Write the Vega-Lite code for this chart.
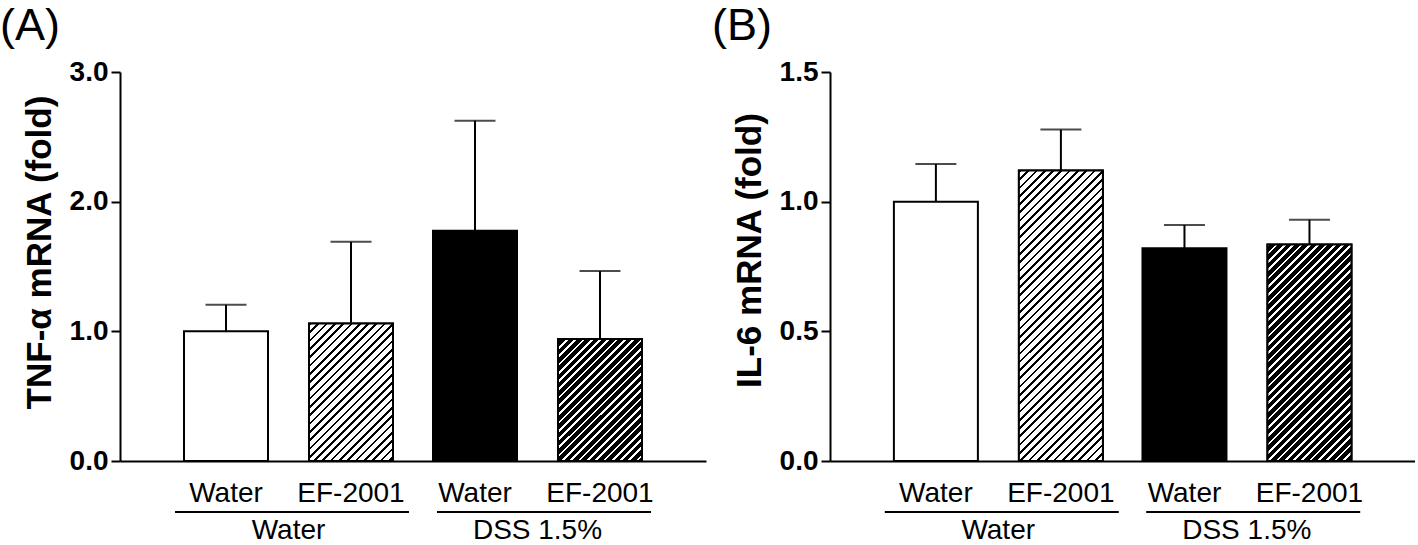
{
"$schema":"https://vega.github.io/schema/vega-lite/v6.json",
"padding":{"left":0,"top":4,"right":0,"bottom":0},
"spacing":6,
"config":{"view":{"stroke":null},"font":"Liberation Sans","axis":{"domainColor":"black","tickColor":"black","labelColor":"black","titleColor":"black","grid":false,"domainWidth":2,"tickWidth":2}},
"hconcat":[
{
"width":586,"height":389,
"title":{"text":"(A)","anchor":"start","frame":"group","dx":-120,"offset":-36,"baseline":"bottom","fontSize":45,"fontWeight":"normal","color":"black","font":"Liberation Sans"},
"data":{"values":[
{"group":"Water","treatment":"Water","value":1.0,"upper":1.205},
{"group":"Water","treatment":"EF-2001","value":1.06,"upper":1.69},
{"group":"DSS 1.5%","treatment":"Water","value":1.775,"upper":2.625},
{"group":"DSS 1.5%","treatment":"EF-2001","value":0.94,"upper":1.465}
]},
"layer":[
{"mark":{"type":"bar","stroke":"black","strokeWidth":2},
"encoding":{
"x":{"field":"group","type":"nominal","sort":["Water","DSS 1.5%"],"scale":{"domain":["Water","DSS 1.5%"],"paddingInner":0.16064,"paddingOuter":0.25703},"axis":{"title":null,"domain":true,"ticks":false,"tickSize":0,"labelPadding":77,"labelBaseline":"alphabetic","labelFontSize":28,"labelAngle":0}},
"xOffset":{"field":"treatment","type":"nominal","sort":["Water","EF-2001"],"scale":{"domain":["Water","EF-2001"],"paddingInner":0.328,"paddingOuter":0}},
"y":{"field":"value","type":"quantitative","scale":{"domain":[0,3],"nice":false},"axis":{"title":"TNF-α mRNA (fold)","titleFontSize":35,"titleFontWeight":"bold","titleX":-70,"titleY":180,"titleBaseline":"alphabetic","titleAlign":"center","values":[0,1,2,3],"format":".1f","labelFontSize":28,"labelFontWeight":"bold","tickSize":9,"labelPadding":3}},
"fill":{"condition":{"test":"datum.group==='DSS 1.5%'","value":"black"},"value":"white"}
}},
{"transform":[{"filter":"datum.group==='Water' && datum.treatment==='EF-2001'"}],
"mark":{"type":"bar","stroke":"black","strokeWidth":2,"fill":{"gradient":"linear","x1":0,"y1":0,"x2":1.3441,"y2":2.1986,"stops":[
{"offset":0,"color":"#000"},{"offset":0.0065,"color":"#000"},{"offset":0.0065,"color":"#fff"},{"offset":0.02,"color":"#fff"},
{"offset":0.02,"color":"#000"},{"offset":0.0265,"color":"#000"},{"offset":0.0265,"color":"#fff"},{"offset":0.04,"color":"#fff"},
{"offset":0.04,"color":"#000"},{"offset":0.0465,"color":"#000"},{"offset":0.0465,"color":"#fff"},{"offset":0.06,"color":"#fff"},
{"offset":0.06,"color":"#000"},{"offset":0.0665,"color":"#000"},{"offset":0.0665,"color":"#fff"},{"offset":0.08,"color":"#fff"},
{"offset":0.08,"color":"#000"},{"offset":0.0865,"color":"#000"},{"offset":0.0865,"color":"#fff"},{"offset":0.1,"color":"#fff"},
{"offset":0.1,"color":"#000"},{"offset":0.1065,"color":"#000"},{"offset":0.1065,"color":"#fff"},{"offset":0.12,"color":"#fff"},
{"offset":0.12,"color":"#000"},{"offset":0.1265,"color":"#000"},{"offset":0.1265,"color":"#fff"},{"offset":0.14,"color":"#fff"},
{"offset":0.14,"color":"#000"},{"offset":0.1465,"color":"#000"},{"offset":0.1465,"color":"#fff"},{"offset":0.16,"color":"#fff"},
{"offset":0.16,"color":"#000"},{"offset":0.1665,"color":"#000"},{"offset":0.1665,"color":"#fff"},{"offset":0.18,"color":"#fff"},
{"offset":0.18,"color":"#000"},{"offset":0.1865,"color":"#000"},{"offset":0.1865,"color":"#fff"},{"offset":0.2,"color":"#fff"},
{"offset":0.2,"color":"#000"},{"offset":0.2065,"color":"#000"},{"offset":0.2065,"color":"#fff"},{"offset":0.22,"color":"#fff"},
{"offset":0.22,"color":"#000"},{"offset":0.2265,"color":"#000"},{"offset":0.2265,"color":"#fff"},{"offset":0.24,"color":"#fff"},
{"offset":0.24,"color":"#000"},{"offset":0.2465,"color":"#000"},{"offset":0.2465,"color":"#fff"},{"offset":0.26,"color":"#fff"},
{"offset":0.26,"color":"#000"},{"offset":0.2665,"color":"#000"},{"offset":0.2665,"color":"#fff"},{"offset":0.28,"color":"#fff"},
{"offset":0.28,"color":"#000"},{"offset":0.2865,"color":"#000"},{"offset":0.2865,"color":"#fff"},{"offset":0.3,"color":"#fff"},
{"offset":0.3,"color":"#000"},{"offset":0.3065,"color":"#000"},{"offset":0.3065,"color":"#fff"},{"offset":0.32,"color":"#fff"},
{"offset":0.32,"color":"#000"},{"offset":0.3265,"color":"#000"},{"offset":0.3265,"color":"#fff"},{"offset":0.34,"color":"#fff"},
{"offset":0.34,"color":"#000"},{"offset":0.3465,"color":"#000"},{"offset":0.3465,"color":"#fff"},{"offset":0.36,"color":"#fff"},
{"offset":0.36,"color":"#000"},{"offset":0.3665,"color":"#000"},{"offset":0.3665,"color":"#fff"},{"offset":0.38,"color":"#fff"},
{"offset":0.38,"color":"#000"},{"offset":0.3865,"color":"#000"},{"offset":0.3865,"color":"#fff"},{"offset":0.4,"color":"#fff"},
{"offset":0.4,"color":"#000"},{"offset":0.4065,"color":"#000"},{"offset":0.4065,"color":"#fff"},{"offset":0.42,"color":"#fff"},
{"offset":0.42,"color":"#000"},{"offset":0.4265,"color":"#000"},{"offset":0.4265,"color":"#fff"},{"offset":0.44,"color":"#fff"},
{"offset":0.44,"color":"#000"},{"offset":0.4465,"color":"#000"},{"offset":0.4465,"color":"#fff"},{"offset":0.46,"color":"#fff"},
{"offset":0.46,"color":"#000"},{"offset":0.4665,"color":"#000"},{"offset":0.4665,"color":"#fff"},{"offset":0.48,"color":"#fff"},
{"offset":0.48,"color":"#000"},{"offset":0.4865,"color":"#000"},{"offset":0.4865,"color":"#fff"},{"offset":0.5,"color":"#fff"},
{"offset":0.5,"color":"#000"},{"offset":0.5065,"color":"#000"},{"offset":0.5065,"color":"#fff"},{"offset":0.52,"color":"#fff"},
{"offset":0.52,"color":"#000"},{"offset":0.5265,"color":"#000"},{"offset":0.5265,"color":"#fff"},{"offset":0.54,"color":"#fff"},
{"offset":0.54,"color":"#000"},{"offset":0.5465,"color":"#000"},{"offset":0.5465,"color":"#fff"},{"offset":0.56,"color":"#fff"}
]}},
"encoding":{"x":{"field":"group","type":"nominal"},"xOffset":{"field":"treatment","type":"nominal"},"y":{"field":"value","type":"quantitative"}}},
{"transform":[{"filter":"datum.group==='DSS 1.5%' && datum.treatment==='EF-2001'"}],
"mark":{"type":"bar","stroke":"black","strokeWidth":2,"fill":{"gradient":"linear","x1":0,"y1":0,"x2":1.5906,"y2":2.3083,"stops":[
{"offset":0,"color":"#fff"},{"offset":0.0065,"color":"#fff"},{"offset":0.0065,"color":"#000"},{"offset":0.02,"color":"#000"},
{"offset":0.02,"color":"#fff"},{"offset":0.0265,"color":"#fff"},{"offset":0.0265,"color":"#000"},{"offset":0.04,"color":"#000"},
{"offset":0.04,"color":"#fff"},{"offset":0.0465,"color":"#fff"},{"offset":0.0465,"color":"#000"},{"offset":0.06,"color":"#000"},
{"offset":0.06,"color":"#fff"},{"offset":0.0665,"color":"#fff"},{"offset":0.0665,"color":"#000"},{"offset":0.08,"color":"#000"},
{"offset":0.08,"color":"#fff"},{"offset":0.0865,"color":"#fff"},{"offset":0.0865,"color":"#000"},{"offset":0.1,"color":"#000"},
{"offset":0.1,"color":"#fff"},{"offset":0.1065,"color":"#fff"},{"offset":0.1065,"color":"#000"},{"offset":0.12,"color":"#000"},
{"offset":0.12,"color":"#fff"},{"offset":0.1265,"color":"#fff"},{"offset":0.1265,"color":"#000"},{"offset":0.14,"color":"#000"},
{"offset":0.14,"color":"#fff"},{"offset":0.1465,"color":"#fff"},{"offset":0.1465,"color":"#000"},{"offset":0.16,"color":"#000"},
{"offset":0.16,"color":"#fff"},{"offset":0.1665,"color":"#fff"},{"offset":0.1665,"color":"#000"},{"offset":0.18,"color":"#000"},
{"offset":0.18,"color":"#fff"},{"offset":0.1865,"color":"#fff"},{"offset":0.1865,"color":"#000"},{"offset":0.2,"color":"#000"},
{"offset":0.2,"color":"#fff"},{"offset":0.2065,"color":"#fff"},{"offset":0.2065,"color":"#000"},{"offset":0.22,"color":"#000"},
{"offset":0.22,"color":"#fff"},{"offset":0.2265,"color":"#fff"},{"offset":0.2265,"color":"#000"},{"offset":0.24,"color":"#000"},
{"offset":0.24,"color":"#fff"},{"offset":0.2465,"color":"#fff"},{"offset":0.2465,"color":"#000"},{"offset":0.26,"color":"#000"},
{"offset":0.26,"color":"#fff"},{"offset":0.2665,"color":"#fff"},{"offset":0.2665,"color":"#000"},{"offset":0.28,"color":"#000"},
{"offset":0.28,"color":"#fff"},{"offset":0.2865,"color":"#fff"},{"offset":0.2865,"color":"#000"},{"offset":0.3,"color":"#000"},
{"offset":0.3,"color":"#fff"},{"offset":0.3065,"color":"#fff"},{"offset":0.3065,"color":"#000"},{"offset":0.32,"color":"#000"},
{"offset":0.32,"color":"#fff"},{"offset":0.3265,"color":"#fff"},{"offset":0.3265,"color":"#000"},{"offset":0.34,"color":"#000"},
{"offset":0.34,"color":"#fff"},{"offset":0.3465,"color":"#fff"},{"offset":0.3465,"color":"#000"},{"offset":0.36,"color":"#000"},
{"offset":0.36,"color":"#fff"},{"offset":0.3665,"color":"#fff"},{"offset":0.3665,"color":"#000"},{"offset":0.38,"color":"#000"},
{"offset":0.38,"color":"#fff"},{"offset":0.3865,"color":"#fff"},{"offset":0.3865,"color":"#000"},{"offset":0.4,"color":"#000"},
{"offset":0.4,"color":"#fff"},{"offset":0.4065,"color":"#fff"},{"offset":0.4065,"color":"#000"},{"offset":0.42,"color":"#000"},
{"offset":0.42,"color":"#fff"},{"offset":0.4265,"color":"#fff"},{"offset":0.4265,"color":"#000"},{"offset":0.44,"color":"#000"},
{"offset":0.44,"color":"#fff"},{"offset":0.4465,"color":"#fff"},{"offset":0.4465,"color":"#000"},{"offset":0.46,"color":"#000"},
{"offset":0.46,"color":"#fff"},{"offset":0.4665,"color":"#fff"},{"offset":0.4665,"color":"#000"},{"offset":0.48,"color":"#000"},
{"offset":0.48,"color":"#fff"},{"offset":0.4865,"color":"#fff"},{"offset":0.4865,"color":"#000"},{"offset":0.5,"color":"#000"},
{"offset":0.5,"color":"#fff"},{"offset":0.5065,"color":"#fff"},{"offset":0.5065,"color":"#000"},{"offset":0.52,"color":"#000"}
]}},
"encoding":{"x":{"field":"group","type":"nominal"},"xOffset":{"field":"treatment","type":"nominal"},"y":{"field":"value","type":"quantitative"}}},
{"mark":{"type":"rule","strokeWidth":2,"color":"black"},
"encoding":{"x":{"field":"group","type":"nominal"},"xOffset":{"field":"treatment","type":"nominal"},"y":{"field":"value","type":"quantitative"},"y2":{"field":"upper"}}},
{"mark":{"type":"tick","size":41,"thickness":2,"color":"black"},
"encoding":{"x":{"field":"group","type":"nominal"},"xOffset":{"field":"treatment","type":"nominal"},"y":{"field":"upper","type":"quantitative"}}},
{"mark":{"type":"text","fontSize":28,"baseline":"alphabetic","dy":41,"color":"black"},
"encoding":{"x":{"field":"group","type":"nominal"},"xOffset":{"field":"treatment","type":"nominal"},"y":{"datum":0,"type":"quantitative"},"text":{"field":"treatment"}}},
{"transform":[{"filter":"datum.group==='Water'"}],
"mark":{"type":"rule","strokeWidth":2,"color":"black","yOffset":51,"xOffset":-9,"x2Offset":16},
"encoding":{"x":{"field":"group","type":"nominal","bandPosition":0},"x2":{"field":"group","bandPosition":1},"y":{"datum":0,"type":"quantitative"}}},
{"transform":[{"filter":"datum.group==='DSS 1.5%'"}],
"mark":{"type":"rule","strokeWidth":2,"color":"black","yOffset":51,"xOffset":4,"x2Offset":9},
"encoding":{"x":{"field":"group","type":"nominal","bandPosition":0},"x2":{"field":"group","bandPosition":1},"y":{"datum":0,"type":"quantitative"}}}
]
},
{
"width":585,"height":389,
"title":{"text":"(B)","anchor":"start","frame":"group","dx":-118,"offset":-36,"baseline":"bottom","fontSize":45,"fontWeight":"normal","color":"black","font":"Liberation Sans"},
"data":{"values":[
{"group":"Water","treatment":"Water","value":1.0,"upper":1.145},
{"group":"Water","treatment":"EF-2001","value":1.12,"upper":1.278},
{"group":"DSS 1.5%","treatment":"Water","value":0.82,"upper":0.91},
{"group":"DSS 1.5%","treatment":"EF-2001","value":0.835,"upper":0.93}
]},
"layer":[
{"mark":{"type":"bar","stroke":"black","strokeWidth":2},
"encoding":{
"x":{"field":"group","type":"nominal","sort":["Water","DSS 1.5%"],"scale":{"domain":["Water","DSS 1.5%"],"paddingInner":0.16064,"paddingOuter":0.25703},"axis":{"title":null,"domain":true,"ticks":false,"tickSize":0,"labelPadding":77,"labelBaseline":"alphabetic","labelFontSize":28,"labelAngle":0}},
"xOffset":{"field":"treatment","type":"nominal","sort":["Water","EF-2001"],"scale":{"domain":["Water","EF-2001"],"paddingInner":0.328,"paddingOuter":0}},
"y":{"field":"value","type":"quantitative","scale":{"domain":[0,1.5],"nice":false},"axis":{"title":"IL-6 mRNA (fold)","titleFontSize":35,"titleFontWeight":"bold","titleX":-70,"titleY":178,"titleBaseline":"alphabetic","titleAlign":"center","values":[0,0.5,1,1.5],"format":".1f","labelFontSize":28,"labelFontWeight":"bold","tickSize":9,"labelPadding":3}},
"fill":{"condition":{"test":"datum.group==='DSS 1.5%'","value":"black"},"value":"white"}
}},
{"transform":[{"filter":"datum.group==='Water' && datum.treatment==='EF-2001'"}],
"mark":{"type":"bar","stroke":"black","strokeWidth":2,"fill":{"gradient":"linear","x1":0,"y1":0,"x2":0.3812,"y2":1.3183,"stops":[
{"offset":0,"color":"#000"},{"offset":0.0065,"color":"#000"},{"offset":0.0065,"color":"#fff"},{"offset":0.02,"color":"#fff"},
{"offset":0.02,"color":"#000"},{"offset":0.0265,"color":"#000"},{"offset":0.0265,"color":"#fff"},{"offset":0.04,"color":"#fff"},
{"offset":0.04,"color":"#000"},{"offset":0.0465,"color":"#000"},{"offset":0.0465,"color":"#fff"},{"offset":0.06,"color":"#fff"},
{"offset":0.06,"color":"#000"},{"offset":0.0665,"color":"#000"},{"offset":0.0665,"color":"#fff"},{"offset":0.08,"color":"#fff"},
{"offset":0.08,"color":"#000"},{"offset":0.0865,"color":"#000"},{"offset":0.0865,"color":"#fff"},{"offset":0.1,"color":"#fff"},
{"offset":0.1,"color":"#000"},{"offset":0.1065,"color":"#000"},{"offset":0.1065,"color":"#fff"},{"offset":0.12,"color":"#fff"},
{"offset":0.12,"color":"#000"},{"offset":0.1265,"color":"#000"},{"offset":0.1265,"color":"#fff"},{"offset":0.14,"color":"#fff"},
{"offset":0.14,"color":"#000"},{"offset":0.1465,"color":"#000"},{"offset":0.1465,"color":"#fff"},{"offset":0.16,"color":"#fff"},
{"offset":0.16,"color":"#000"},{"offset":0.1665,"color":"#000"},{"offset":0.1665,"color":"#fff"},{"offset":0.18,"color":"#fff"},
{"offset":0.18,"color":"#000"},{"offset":0.1865,"color":"#000"},{"offset":0.1865,"color":"#fff"},{"offset":0.2,"color":"#fff"},
{"offset":0.2,"color":"#000"},{"offset":0.2065,"color":"#000"},{"offset":0.2065,"color":"#fff"},{"offset":0.22,"color":"#fff"},
{"offset":0.22,"color":"#000"},{"offset":0.2265,"color":"#000"},{"offset":0.2265,"color":"#fff"},{"offset":0.24,"color":"#fff"},
{"offset":0.24,"color":"#000"},{"offset":0.2465,"color":"#000"},{"offset":0.2465,"color":"#fff"},{"offset":0.26,"color":"#fff"},
{"offset":0.26,"color":"#000"},{"offset":0.2665,"color":"#000"},{"offset":0.2665,"color":"#fff"},{"offset":0.28,"color":"#fff"},
{"offset":0.28,"color":"#000"},{"offset":0.2865,"color":"#000"},{"offset":0.2865,"color":"#fff"},{"offset":0.3,"color":"#fff"},
{"offset":0.3,"color":"#000"},{"offset":0.3065,"color":"#000"},{"offset":0.3065,"color":"#fff"},{"offset":0.32,"color":"#fff"},
{"offset":0.32,"color":"#000"},{"offset":0.3265,"color":"#000"},{"offset":0.3265,"color":"#fff"},{"offset":0.34,"color":"#fff"},
{"offset":0.34,"color":"#000"},{"offset":0.3465,"color":"#000"},{"offset":0.3465,"color":"#fff"},{"offset":0.36,"color":"#fff"},
{"offset":0.36,"color":"#000"},{"offset":0.3665,"color":"#000"},{"offset":0.3665,"color":"#fff"},{"offset":0.38,"color":"#fff"},
{"offset":0.38,"color":"#000"},{"offset":0.3865,"color":"#000"},{"offset":0.3865,"color":"#fff"},{"offset":0.4,"color":"#fff"},
{"offset":0.4,"color":"#000"},{"offset":0.4065,"color":"#000"},{"offset":0.4065,"color":"#fff"},{"offset":0.42,"color":"#fff"},
{"offset":0.42,"color":"#000"},{"offset":0.4265,"color":"#000"},{"offset":0.4265,"color":"#fff"},{"offset":0.44,"color":"#fff"},
{"offset":0.44,"color":"#000"},{"offset":0.4465,"color":"#000"},{"offset":0.4465,"color":"#fff"},{"offset":0.46,"color":"#fff"},
{"offset":0.46,"color":"#000"},{"offset":0.4665,"color":"#000"},{"offset":0.4665,"color":"#fff"},{"offset":0.48,"color":"#fff"},
{"offset":0.48,"color":"#000"},{"offset":0.4865,"color":"#000"},{"offset":0.4865,"color":"#fff"},{"offset":0.5,"color":"#fff"},
{"offset":0.5,"color":"#000"},{"offset":0.5065,"color":"#000"},{"offset":0.5065,"color":"#fff"},{"offset":0.52,"color":"#fff"},
{"offset":0.52,"color":"#000"},{"offset":0.5265,"color":"#000"},{"offset":0.5265,"color":"#fff"},{"offset":0.54,"color":"#fff"},
{"offset":0.54,"color":"#000"},{"offset":0.5465,"color":"#000"},{"offset":0.5465,"color":"#fff"},{"offset":0.56,"color":"#fff"},
{"offset":0.56,"color":"#000"},{"offset":0.5665,"color":"#000"},{"offset":0.5665,"color":"#fff"},{"offset":0.58,"color":"#fff"},
{"offset":0.58,"color":"#000"},{"offset":0.5865,"color":"#000"},{"offset":0.5865,"color":"#fff"},{"offset":0.6,"color":"#fff"},
{"offset":0.6,"color":"#000"},{"offset":0.6065,"color":"#000"},{"offset":0.6065,"color":"#fff"},{"offset":0.62,"color":"#fff"},
{"offset":0.62,"color":"#000"},{"offset":0.6265,"color":"#000"},{"offset":0.6265,"color":"#fff"},{"offset":0.64,"color":"#fff"},
{"offset":0.64,"color":"#000"},{"offset":0.6465,"color":"#000"},{"offset":0.6465,"color":"#fff"},{"offset":0.66,"color":"#fff"},
{"offset":0.66,"color":"#000"},{"offset":0.6665,"color":"#000"},{"offset":0.6665,"color":"#fff"},{"offset":0.68,"color":"#fff"},
{"offset":0.68,"color":"#000"},{"offset":0.6865,"color":"#000"},{"offset":0.6865,"color":"#fff"},{"offset":0.7,"color":"#fff"},
{"offset":0.7,"color":"#000"},{"offset":0.7065,"color":"#000"},{"offset":0.7065,"color":"#fff"},{"offset":0.72,"color":"#fff"},
{"offset":0.72,"color":"#000"},{"offset":0.7265,"color":"#000"},{"offset":0.7265,"color":"#fff"},{"offset":0.74,"color":"#fff"},
{"offset":0.74,"color":"#000"},{"offset":0.7465,"color":"#000"},{"offset":0.7465,"color":"#fff"},{"offset":0.76,"color":"#fff"},
{"offset":0.76,"color":"#000"},{"offset":0.7665,"color":"#000"},{"offset":0.7665,"color":"#fff"},{"offset":0.78,"color":"#fff"},
{"offset":0.78,"color":"#000"},{"offset":0.7865,"color":"#000"},{"offset":0.7865,"color":"#fff"},{"offset":0.8,"color":"#fff"},
{"offset":0.8,"color":"#000"},{"offset":0.8065,"color":"#000"},{"offset":0.8065,"color":"#fff"},{"offset":0.82,"color":"#fff"},
{"offset":0.82,"color":"#000"},{"offset":0.8265,"color":"#000"},{"offset":0.8265,"color":"#fff"},{"offset":0.84,"color":"#fff"},
{"offset":0.84,"color":"#000"},{"offset":0.8465,"color":"#000"},{"offset":0.8465,"color":"#fff"},{"offset":0.86,"color":"#fff"},
{"offset":0.86,"color":"#000"},{"offset":0.8665,"color":"#000"},{"offset":0.8665,"color":"#fff"},{"offset":0.88,"color":"#fff"},
{"offset":0.88,"color":"#000"},{"offset":0.8865,"color":"#000"},{"offset":0.8865,"color":"#fff"},{"offset":0.9,"color":"#fff"},
{"offset":0.9,"color":"#000"},{"offset":0.9065,"color":"#000"},{"offset":0.9065,"color":"#fff"},{"offset":0.92,"color":"#fff"}
]}},
"encoding":{"x":{"field":"group","type":"nominal"},"xOffset":{"field":"treatment","type":"nominal"},"y":{"field":"value","type":"quantitative"}}},
{"transform":[{"filter":"datum.group==='DSS 1.5%' && datum.treatment==='EF-2001'"}],
"mark":{"type":"bar","stroke":"black","strokeWidth":2,"fill":{"gradient":"linear","x1":0,"y1":0,"x2":0.6464,"y2":1.6661,"stops":[
{"offset":0,"color":"#fff"},{"offset":0.0065,"color":"#fff"},{"offset":0.0065,"color":"#000"},{"offset":0.02,"color":"#000"},
{"offset":0.02,"color":"#fff"},{"offset":0.0265,"color":"#fff"},{"offset":0.0265,"color":"#000"},{"offset":0.04,"color":"#000"},
{"offset":0.04,"color":"#fff"},{"offset":0.0465,"color":"#fff"},{"offset":0.0465,"color":"#000"},{"offset":0.06,"color":"#000"},
{"offset":0.06,"color":"#fff"},{"offset":0.0665,"color":"#fff"},{"offset":0.0665,"color":"#000"},{"offset":0.08,"color":"#000"},
{"offset":0.08,"color":"#fff"},{"offset":0.0865,"color":"#fff"},{"offset":0.0865,"color":"#000"},{"offset":0.1,"color":"#000"},
{"offset":0.1,"color":"#fff"},{"offset":0.1065,"color":"#fff"},{"offset":0.1065,"color":"#000"},{"offset":0.12,"color":"#000"},
{"offset":0.12,"color":"#fff"},{"offset":0.1265,"color":"#fff"},{"offset":0.1265,"color":"#000"},{"offset":0.14,"color":"#000"},
{"offset":0.14,"color":"#fff"},{"offset":0.1465,"color":"#fff"},{"offset":0.1465,"color":"#000"},{"offset":0.16,"color":"#000"},
{"offset":0.16,"color":"#fff"},{"offset":0.1665,"color":"#fff"},{"offset":0.1665,"color":"#000"},{"offset":0.18,"color":"#000"},
{"offset":0.18,"color":"#fff"},{"offset":0.1865,"color":"#fff"},{"offset":0.1865,"color":"#000"},{"offset":0.2,"color":"#000"},
{"offset":0.2,"color":"#fff"},{"offset":0.2065,"color":"#fff"},{"offset":0.2065,"color":"#000"},{"offset":0.22,"color":"#000"},
{"offset":0.22,"color":"#fff"},{"offset":0.2265,"color":"#fff"},{"offset":0.2265,"color":"#000"},{"offset":0.24,"color":"#000"},
{"offset":0.24,"color":"#fff"},{"offset":0.2465,"color":"#fff"},{"offset":0.2465,"color":"#000"},{"offset":0.26,"color":"#000"},
{"offset":0.26,"color":"#fff"},{"offset":0.2665,"color":"#fff"},{"offset":0.2665,"color":"#000"},{"offset":0.28,"color":"#000"},
{"offset":0.28,"color":"#fff"},{"offset":0.2865,"color":"#fff"},{"offset":0.2865,"color":"#000"},{"offset":0.3,"color":"#000"},
{"offset":0.3,"color":"#fff"},{"offset":0.3065,"color":"#fff"},{"offset":0.3065,"color":"#000"},{"offset":0.32,"color":"#000"},
{"offset":0.32,"color":"#fff"},{"offset":0.3265,"color":"#fff"},{"offset":0.3265,"color":"#000"},{"offset":0.34,"color":"#000"},
{"offset":0.34,"color":"#fff"},{"offset":0.3465,"color":"#fff"},{"offset":0.3465,"color":"#000"},{"offset":0.36,"color":"#000"},
{"offset":0.36,"color":"#fff"},{"offset":0.3665,"color":"#fff"},{"offset":0.3665,"color":"#000"},{"offset":0.38,"color":"#000"},
{"offset":0.38,"color":"#fff"},{"offset":0.3865,"color":"#fff"},{"offset":0.3865,"color":"#000"},{"offset":0.4,"color":"#000"},
{"offset":0.4,"color":"#fff"},{"offset":0.4065,"color":"#fff"},{"offset":0.4065,"color":"#000"},{"offset":0.42,"color":"#000"},
{"offset":0.42,"color":"#fff"},{"offset":0.4265,"color":"#fff"},{"offset":0.4265,"color":"#000"},{"offset":0.44,"color":"#000"},
{"offset":0.44,"color":"#fff"},{"offset":0.4465,"color":"#fff"},{"offset":0.4465,"color":"#000"},{"offset":0.46,"color":"#000"},
{"offset":0.46,"color":"#fff"},{"offset":0.4665,"color":"#fff"},{"offset":0.4665,"color":"#000"},{"offset":0.48,"color":"#000"},
{"offset":0.48,"color":"#fff"},{"offset":0.4865,"color":"#fff"},{"offset":0.4865,"color":"#000"},{"offset":0.5,"color":"#000"},
{"offset":0.5,"color":"#fff"},{"offset":0.5065,"color":"#fff"},{"offset":0.5065,"color":"#000"},{"offset":0.52,"color":"#000"},
{"offset":0.52,"color":"#fff"},{"offset":0.5265,"color":"#fff"},{"offset":0.5265,"color":"#000"},{"offset":0.54,"color":"#000"},
{"offset":0.54,"color":"#fff"},{"offset":0.5465,"color":"#fff"},{"offset":0.5465,"color":"#000"},{"offset":0.56,"color":"#000"},
{"offset":0.56,"color":"#fff"},{"offset":0.5665,"color":"#fff"},{"offset":0.5665,"color":"#000"},{"offset":0.58,"color":"#000"},
{"offset":0.58,"color":"#fff"},{"offset":0.5865,"color":"#fff"},{"offset":0.5865,"color":"#000"},{"offset":0.6,"color":"#000"},
{"offset":0.6,"color":"#fff"},{"offset":0.6065,"color":"#fff"},{"offset":0.6065,"color":"#000"},{"offset":0.62,"color":"#000"},
{"offset":0.62,"color":"#fff"},{"offset":0.6265,"color":"#fff"},{"offset":0.6265,"color":"#000"},{"offset":0.64,"color":"#000"},
{"offset":0.64,"color":"#fff"},{"offset":0.6465,"color":"#fff"},{"offset":0.6465,"color":"#000"},{"offset":0.66,"color":"#000"},
{"offset":0.66,"color":"#fff"},{"offset":0.6665,"color":"#fff"},{"offset":0.6665,"color":"#000"},{"offset":0.68,"color":"#000"},
{"offset":0.68,"color":"#fff"},{"offset":0.6865,"color":"#fff"},{"offset":0.6865,"color":"#000"},{"offset":0.7,"color":"#000"},
{"offset":0.7,"color":"#fff"},{"offset":0.7065,"color":"#fff"},{"offset":0.7065,"color":"#000"},{"offset":0.72,"color":"#000"},
{"offset":0.72,"color":"#fff"},{"offset":0.7265,"color":"#fff"},{"offset":0.7265,"color":"#000"},{"offset":0.74,"color":"#000"},
{"offset":0.74,"color":"#fff"},{"offset":0.7465,"color":"#fff"},{"offset":0.7465,"color":"#000"},{"offset":0.76,"color":"#000"}
]}},
"encoding":{"x":{"field":"group","type":"nominal"},"xOffset":{"field":"treatment","type":"nominal"},"y":{"field":"value","type":"quantitative"}}},
{"mark":{"type":"rule","strokeWidth":2,"color":"black"},
"encoding":{"x":{"field":"group","type":"nominal"},"xOffset":{"field":"treatment","type":"nominal"},"y":{"field":"value","type":"quantitative"},"y2":{"field":"upper"}}},
{"mark":{"type":"tick","size":41,"thickness":2,"color":"black"},
"encoding":{"x":{"field":"group","type":"nominal"},"xOffset":{"field":"treatment","type":"nominal"},"y":{"field":"upper","type":"quantitative"}}},
{"mark":{"type":"text","fontSize":28,"baseline":"alphabetic","dy":41,"color":"black"},
"encoding":{"x":{"field":"group","type":"nominal"},"xOffset":{"field":"treatment","type":"nominal"},"y":{"datum":0,"type":"quantitative"},"text":{"field":"treatment"}}},
{"transform":[{"filter":"datum.group==='Water'"}],
"mark":{"type":"rule","strokeWidth":2,"color":"black","yOffset":51,"xOffset":-9,"x2Offset":16},
"encoding":{"x":{"field":"group","type":"nominal","bandPosition":0},"x2":{"field":"group","bandPosition":1},"y":{"datum":0,"type":"quantitative"}}},
{"transform":[{"filter":"datum.group==='DSS 1.5%'"}],
"mark":{"type":"rule","strokeWidth":2,"color":"black","yOffset":51,"xOffset":4,"x2Offset":9},
"encoding":{"x":{"field":"group","type":"nominal","bandPosition":0},"x2":{"field":"group","bandPosition":1},"y":{"datum":0,"type":"quantitative"}}}
]
}
]
}
